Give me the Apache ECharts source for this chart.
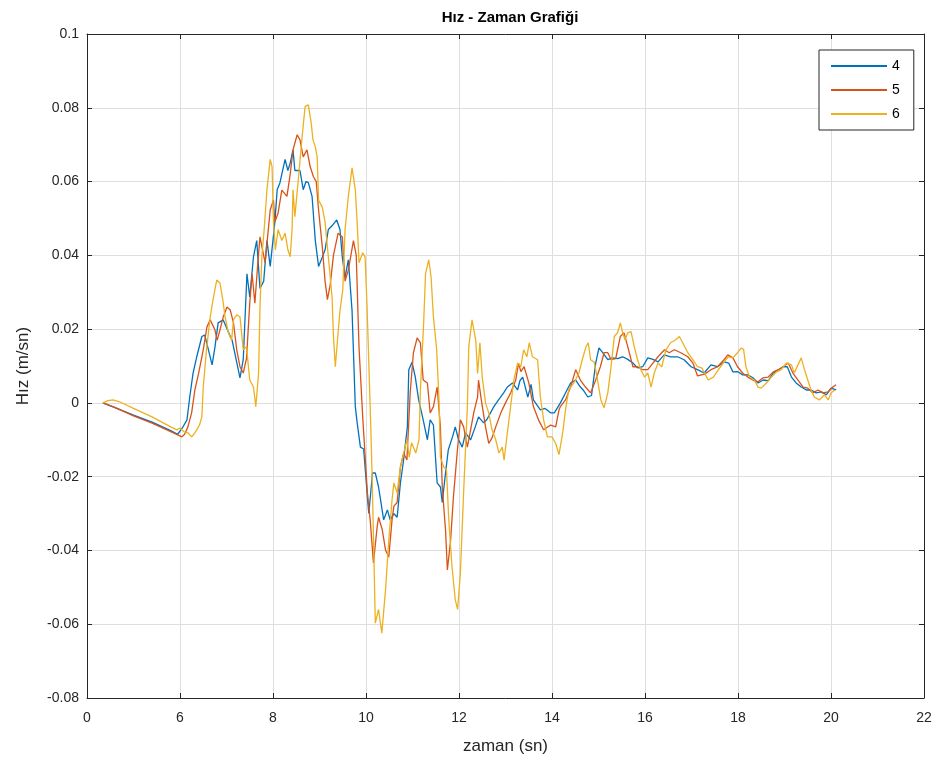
<!DOCTYPE html>
<html>
<head>
<meta charset="utf-8">
<script src="https://cdn.jsdelivr.net/npm/echarts@6/dist/echarts.min.js"></script>
<style>html,body{margin:0;padding:0;background:#fff}#c{width:944px;height:765px}</style>
</head>
<body>
<div id="c"></div>
<script>
const seriesNames = ['4', '5', '6'];
const xTickLabelFirst = '0';

const s4 = [[4.34,0],[4.6,-0.0013],[5.0,-0.0033],[5.4,-0.0052],[5.8,-0.0075],[5.95,-0.0085],[6.05,-0.0068],[6.15,-0.0046],[6.21,0.0016],[6.28,0.008],[6.36,0.0125],[6.47,0.018],[6.53,0.0184],[6.58,0.016],[6.69,0.0103],[6.75,0.015],[6.82,0.0217],[6.93,0.0225],[7.02,0.0198],[7.12,0.017],[7.22,0.011],[7.29,0.0068],[7.36,0.0117],[7.44,0.035],[7.5,0.0287],[7.58,0.0396],[7.65,0.044],[7.72,0.031],[7.8,0.033],[7.87,0.044],[7.94,0.037],[8.04,0.049],[8.09,0.0578],[8.15,0.0597],[8.26,0.066],[8.32,0.063],[8.37,0.065],[8.43,0.0686],[8.47,0.063],[8.58,0.063],[8.65,0.0578],[8.71,0.06],[8.76,0.0597],[8.84,0.056],[8.91,0.044],[8.98,0.037],[9.06,0.0395],[9.12,0.0415],[9.19,0.047],[9.27,0.048],[9.37,0.0496],[9.44,0.047],[9.49,0.0396],[9.55,0.034],[9.62,0.0388],[9.7,0.025],[9.77,-0.001],[9.81,-0.0054],[9.88,-0.012],[9.95,-0.0125],[10.03,-0.0255],[10.06,-0.03],[10.14,-0.019],[10.2,-0.019],[10.27,-0.0228],[10.38,-0.0317],[10.46,-0.029],[10.52,-0.0317],[10.6,-0.03],[10.67,-0.031],[10.74,-0.0217],[10.8,-0.0163],[10.89,-0.0065],[10.92,0.009],[10.99,0.011],[11.06,0.007],[11.13,0.001],[11.23,-0.0046],[11.32,-0.01],[11.38,-0.0046],[11.45,-0.006],[11.53,-0.0217],[11.6,-0.0228],[11.64,-0.027],[11.71,-0.019],[11.77,-0.0127],[11.86,-0.0092],[11.92,-0.0065],[11.99,-0.01],[12.07,-0.012],[12.14,-0.0081],[12.25,-0.01],[12.35,-0.0065],[12.42,-0.0038],[12.53,-0.0054],[12.6,-0.0045],[12.75,-0.001],[12.85,0.0008],[12.96,0.0027],[13.04,0.0043],[13.15,0.0054],[13.26,0.0035],[13.31,0.006],[13.37,0.007],[13.48,0.0016],[13.55,0.005],[13.6,0.0008],[13.75,-0.0019],[13.85,-0.0015],[13.97,-0.0027],[14.05,-0.0027],[14.18,0],[14.29,0.0027],[14.4,0.0054],[14.51,0.0062],[14.61,0.0043],[14.67,0.0035],[14.77,0.0016],[14.85,0.002],[14.94,0.0108],[15.01,0.0149],[15.09,0.0136],[15.2,0.0117],[15.3,0.0122],[15.41,0.012],[15.52,0.0125],[15.63,0.0118],[15.74,0.0108],[15.84,0.0095],[15.95,0.0098],[16.06,0.0122],[16.17,0.0118],[16.28,0.0111],[16.41,0.013],[16.55,0.0125],[16.7,0.0125],[16.84,0.0117],[16.99,0.0098],[17.13,0.009],[17.27,0.0081],[17.42,0.0103],[17.56,0.0098],[17.7,0.0111],[17.8,0.0108],[17.89,0.0084],[17.99,0.0085],[18.1,0.0076],[18.21,0.0076],[18.32,0.0068],[18.43,0.0054],[18.54,0.0062],[18.65,0.006],[18.76,0.0081],[18.87,0.009],[18.97,0.0098],[19.06,0.0098],[19.15,0.007],[19.25,0.0054],[19.36,0.0043],[19.47,0.0035],[19.57,0.0035],[19.68,0.0027],[19.79,0.003],[19.9,0.0022],[20.0,0.004],[20.11,0.0035]];

const s5 = [[4.34,0],[4.6,-0.0012],[5.0,-0.0035],[5.4,-0.0055],[5.8,-0.0078],[6.04,-0.0092],[6.1,-0.0085],[6.17,-0.0065],[6.25,-0.0027],[6.32,0.0035],[6.4,0.008],[6.5,0.0144],[6.58,0.0206],[6.65,0.0225],[6.75,0.0198],[6.8,0.017],[6.86,0.0198],[6.93,0.0233],[7.01,0.026],[7.08,0.0252],[7.15,0.0217],[7.22,0.0144],[7.29,0.0098],[7.36,0.0081],[7.43,0.012],[7.5,0.027],[7.55,0.035],[7.61,0.027],[7.68,0.039],[7.72,0.045],[7.83,0.038],[7.94,0.0523],[8.01,0.055],[8.04,0.049],[8.11,0.0515],[8.19,0.0577],[8.3,0.056],[8.37,0.062],[8.43,0.0686],[8.52,0.0727],[8.58,0.0713],[8.65,0.0667],[8.73,0.0686],[8.8,0.064],[8.87,0.0613],[8.93,0.06],[8.98,0.0523],[9.06,0.0423],[9.12,0.033],[9.17,0.028],[9.23,0.032],[9.3,0.04],[9.4,0.046],[9.49,0.045],[9.55,0.033],[9.62,0.036],[9.73,0.044],[9.79,0.04],[9.85,0.015],[9.93,-0.004],[10.03,-0.0244],[10.09,-0.0317],[10.16,-0.0434],[10.24,-0.0336],[10.27,-0.031],[10.35,-0.0344],[10.42,-0.0399],[10.49,-0.0418],[10.56,-0.0317],[10.6,-0.028],[10.67,-0.027],[10.74,-0.0174],[10.81,-0.0136],[10.88,-0.0155],[10.95,0.0027],[11.02,0.0136],[11.1,0.0176],[11.17,0.0163],[11.23,0.0062],[11.32,0.0054],[11.38,-0.0027],[11.45,-0.001],[11.53,0.0043],[11.6,-0.0065],[11.64,-0.0228],[11.71,-0.0344],[11.75,-0.0453],[11.82,-0.0372],[11.88,-0.0255],[11.96,-0.0136],[12.03,-0.0046],[12.1,-0.0065],[12.18,-0.012],[12.25,-0.0073],[12.32,-0.0025],[12.4,0.0016],[12.42,0.0062],[12.48,0.0008],[12.57,-0.0065],[12.64,-0.011],[12.71,-0.0095],[12.79,-0.0065],[12.9,-0.0027],[13.0,0],[13.11,0.0027],[13.22,0.0062],[13.28,0.0108],[13.33,0.0085],[13.4,0.0098],[13.44,0.0098],[13.5,0.0055],[13.6,-0.001],[13.71,-0.0046],[13.82,-0.0073],[13.97,-0.006],[14.08,-0.0065],[14.15,-0.0019],[14.18,-0.001],[14.29,0.0008],[14.4,0.0043],[14.51,0.009],[14.61,0.0062],[14.72,0.0043],[14.83,0.0027],[14.94,0.0062],[15.04,0.0098],[15.12,0.0136],[15.2,0.0136],[15.27,0.0117],[15.37,0.012],[15.47,0.018],[15.55,0.019],[15.63,0.0152],[15.74,0.0098],[15.84,0.0098],[15.95,0.009],[16.06,0.009],[16.17,0.0108],[16.28,0.0125],[16.42,0.0144],[16.52,0.0136],[16.63,0.0144],[16.77,0.0136],[16.92,0.0125],[17.03,0.0108],[17.13,0.0073],[17.28,0.0078],[17.42,0.009],[17.56,0.0098],[17.7,0.0117],[17.78,0.013],[17.89,0.0122],[17.99,0.0098],[18.1,0.0081],[18.21,0.007],[18.32,0.0062],[18.43,0.0057],[18.54,0.0068],[18.65,0.007],[18.76,0.0084],[18.87,0.009],[18.97,0.0098],[19.08,0.0108],[19.18,0.0081],[19.29,0.0062],[19.4,0.0043],[19.5,0.004],[19.61,0.0027],[19.72,0.0035],[19.83,0.0027],[19.94,0.003],[20.04,0.0043],[20.11,0.0049]];

const s6 = [[4.34,0],[4.45,0.0006],[4.56,0.0008],[4.7,0.0003],[5.0,-0.0015],[5.4,-0.0038],[5.8,-0.0065],[5.93,-0.0073],[6.0,-0.0068],[6.08,-0.0078],[6.17,-0.0081],[6.25,-0.0092],[6.3,-0.0085],[6.36,-0.0073],[6.42,-0.006],[6.47,-0.0038],[6.5,0.0043],[6.57,0.0144],[6.65,0.0233],[6.72,0.0287],[6.79,0.0333],[6.86,0.0325],[6.92,0.028],[6.97,0.0233],[7.04,0.019],[7.11,0.017],[7.15,0.0225],[7.22,0.0239],[7.29,0.0233],[7.36,0.0144],[7.43,0.0152],[7.5,0.0062],[7.58,0.0043],[7.63,-0.001],[7.69,0.008],[7.72,0.026],[7.76,0.0396],[7.81,0.047],[7.87,0.0578],[7.94,0.066],[7.98,0.064],[8.01,0.049],[8.05,0.0415],[8.11,0.047],[8.19,0.044],[8.26,0.046],[8.32,0.0415],[8.37,0.0396],[8.41,0.047],[8.43,0.0578],[8.47,0.0505],[8.55,0.0613],[8.62,0.0713],[8.69,0.0803],[8.76,0.0808],[8.82,0.076],[8.86,0.0713],[8.91,0.0694],[8.95,0.0667],[8.98,0.055],[9.06,0.053],[9.12,0.049],[9.19,0.0396],[9.27,0.0287],[9.3,0.018],[9.34,0.0098],[9.37,0.0144],[9.44,0.025],[9.5,0.0306],[9.55,0.047],[9.62,0.056],[9.7,0.0637],[9.77,0.0578],[9.81,0.0488],[9.85,0.038],[9.93,0.0407],[9.98,0.0396],[10.02,0.027],[10.09,-0.001],[10.13,-0.019],[10.17,-0.0418],[10.2,-0.0597],[10.27,-0.056],[10.34,-0.0624],[10.42,-0.0507],[10.49,-0.0372],[10.56,-0.0263],[10.6,-0.0217],[10.67,-0.0244],[10.74,-0.0174],[10.81,-0.0136],[10.88,-0.01],[10.93,-0.0147],[10.98,-0.0108],[11.07,-0.0136],[11.14,-0.01],[11.17,0.0035],[11.24,0.0217],[11.28,0.035],[11.35,0.0388],[11.4,0.034],[11.45,0.0233],[11.52,0.0144],[11.57,0.0008],[11.6,-0.0147],[11.67,-0.0174],[11.73,-0.018],[11.78,-0.0317],[11.85,-0.0445],[11.92,-0.0534],[11.97,-0.056],[12.03,-0.0461],[12.1,-0.024],[12.18,-0.001],[12.21,0.0152],[12.28,0.0225],[12.36,0.017],[12.4,0.008],[12.45,0.0163],[12.5,0.007],[12.57,0],[12.64,-0.0027],[12.71,-0.0073],[12.79,-0.01],[12.86,-0.0136],[12.93,-0.012],[12.97,-0.0155],[13.04,-0.0081],[13.11,-0.001],[13.18,0.0062],[13.26,0.0108],[13.33,0.0098],[13.39,0.0144],[13.46,0.0125],[13.51,0.0163],[13.58,0.0125],[13.69,0.0117],[13.75,0.0016],[13.82,-0.0046],[13.9,-0.0092],[14.0,-0.0092],[14.08,-0.011],[14.15,-0.014],[14.23,-0.0081],[14.29,-0.0019],[14.36,0.0035],[14.47,0.0054],[14.58,0.0081],[14.65,0.0117],[14.73,0.0152],[14.78,0.0163],[14.83,0.0117],[14.91,0.011],[14.98,0.0062],[15.05,0.0008],[15.12,-0.0013],[15.2,0.0027],[15.27,0.0098],[15.34,0.018],[15.41,0.019],[15.47,0.0217],[15.52,0.019],[15.57,0.0171],[15.63,0.019],[15.7,0.0193],[15.77,0.0152],[15.84,0.0117],[15.91,0.009],[15.99,0.007],[16.06,0.0081],[16.13,0.0043],[16.2,0.0081],[16.28,0.0108],[16.36,0.0098],[16.45,0.0144],[16.55,0.0163],[16.66,0.0171],[16.74,0.018],[16.81,0.0163],[16.92,0.0136],[17.03,0.0117],[17.13,0.0098],[17.22,0.0095],[17.36,0.0062],[17.47,0.007],[17.58,0.009],[17.68,0.0108],[17.79,0.0125],[17.89,0.0122],[17.99,0.0136],[18.07,0.0149],[18.12,0.0145],[18.17,0.0098],[18.25,0.007],[18.35,0.0062],[18.43,0.0043],[18.5,0.004],[18.61,0.0054],[18.72,0.007],[18.83,0.0084],[18.93,0.009],[19.04,0.0108],[19.15,0.0103],[19.21,0.0081],[19.29,0.0103],[19.36,0.0122],[19.43,0.009],[19.5,0.0062],[19.57,0.0035],[19.64,0.0016],[19.75,0.0008],[19.86,0.0022],[19.94,0.0008],[20.0,0.0027],[20.08,0.0035]];

const colors = ['#0072BD', '#D95319', '#EDB120'];
const FONT = 'Liberation Sans, Arial, Helvetica, sans-serif';
const AX = '#262626';

const chart = echarts.init(document.getElementById('c'), null, {renderer: 'canvas'});
const gridLine = {show: true, lineStyle: {color: '#dedede', width: 1}};
const tick = {show: true, inside: true, length: 5, lineStyle: {color: AX}};
const option = {
  backgroundColor: '#fff',
  animation: false,
  color: colors,
  title: {
    text: 'Hız - Zaman Grafiği',
    left: 505, top: 5, textAlign: 'center',
    textStyle: {fontFamily: FONT, fontSize: 15, fontWeight: 'bold', color: '#000'}
  },
  legend: {
    data: seriesNames,
    orient: 'vertical',
    left: 819, top: 50,
    icon: 'rect',
    itemWidth: 56, itemHeight: 2, itemGap: 10,
    padding: [9, 14, 9, 12],
    borderColor: AX, borderWidth: 1, backgroundColor: '#fff',
    textStyle: {fontFamily: FONT, fontSize: 14, lineHeight: 14, color: '#000'}
  },
  grid: {left: 87, right: 20, top: 34, bottom: 67, show: false, containLabel: false},
  xAxis: [{
    type: 'value', min: 4, max: 22, interval: 2,
    name: 'zaman (sn)', nameLocation: 'middle', nameGap: 40,
    nameTextStyle: {fontFamily: FONT, fontSize: 17, color: AX},
    axisLine: {show: true, onZero: false, lineStyle: {color: AX}},
    axisTick: tick,
    axisLabel: {fontFamily: FONT, fontSize: 14, color: AX, margin: 13,
      formatter: v => v === 4 ? xTickLabelFirst : String(v)},
    splitLine: gridLine
  }, {
    type: 'value', min: 4, max: 22, interval: 2, position: 'top',
    axisLine: {show: true, onZero: false, lineStyle: {color: AX}},
    axisTick: tick, axisLabel: {show: false}, splitLine: {show: false}
  }],
  yAxis: [{
    type: 'value', min: -0.08, max: 0.1, interval: 0.02,
    name: 'Hız (m/sn)', nameLocation: 'middle', nameGap: 55, nameRotate: 90,
    nameTextStyle: {fontFamily: FONT, fontSize: 17, color: AX},
    axisLine: {show: true, onZero: false, lineStyle: {color: AX}},
    axisTick: tick,
    axisLabel: {fontFamily: FONT, fontSize: 14, color: AX, margin: 8,
      formatter: v => String(parseFloat(v.toFixed(3)))},
    splitLine: gridLine
  }, {
    type: 'value', min: -0.08, max: 0.1, interval: 0.02, position: 'right',
    axisLine: {show: true, onZero: false, lineStyle: {color: AX}},
    axisTick: tick, axisLabel: {show: false}, splitLine: {show: false}
  }],
  series: [s4, s5, s6].map((d, i) => ({
    name: seriesNames[i],
    type: 'line',
    data: d,
    symbol: 'none',
    smooth: false,
    lineStyle: {width: 1.3, color: colors[i]},
    itemStyle: {color: colors[i]},
    z: 2 + i
  }))
};
chart.setOption(option);
</script>
</body>
</html>
